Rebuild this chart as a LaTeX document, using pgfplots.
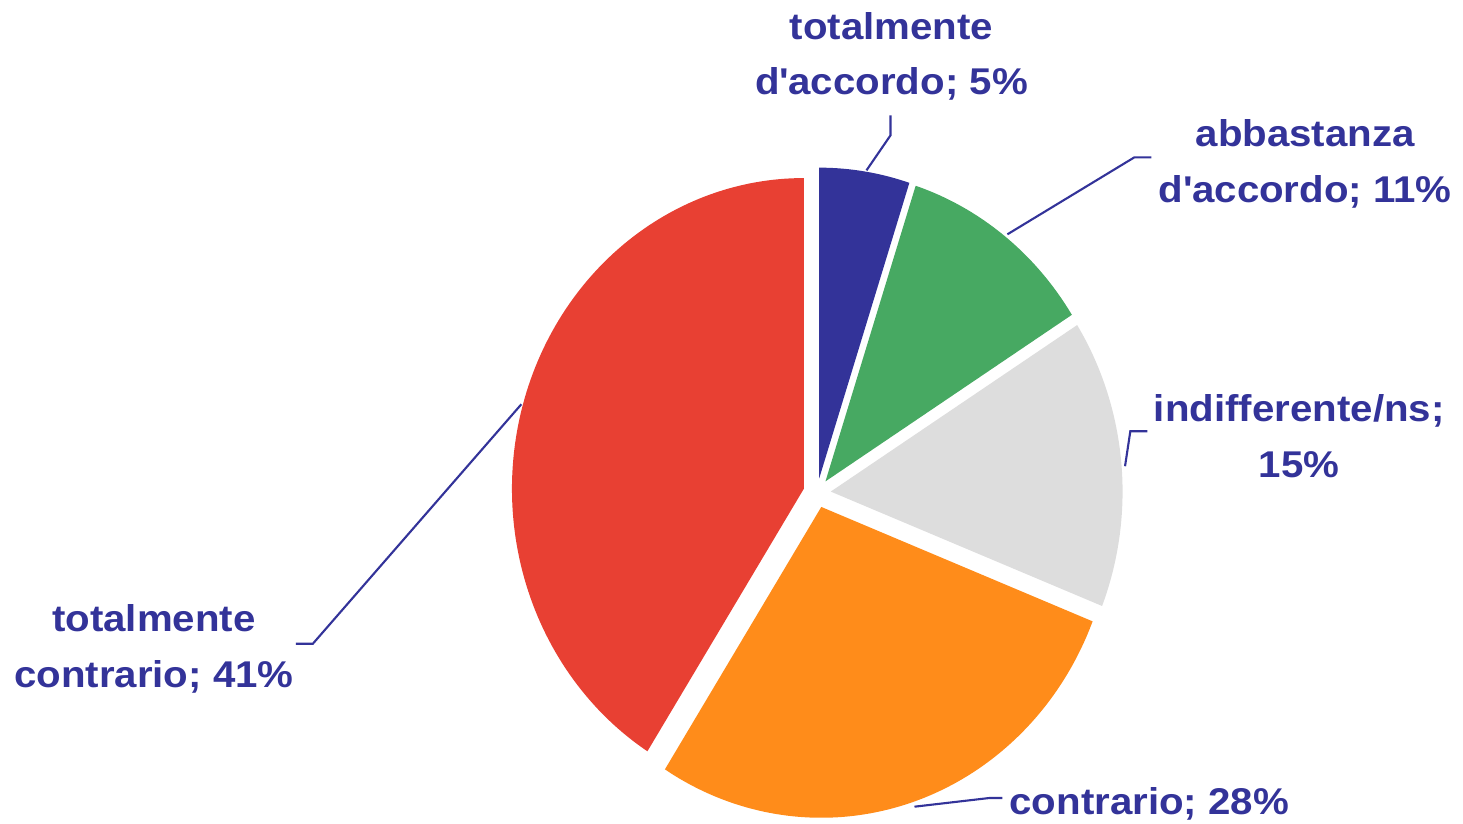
\documentclass[border=0pt]{standalone}
\usepackage{fontspec}
\setmainfont{Liberation Sans}[FakeStretch=1.08]
\usepackage{pgfplots}
\pgfplotsset{compat=1.18}
\definecolor{lblue}{HTML}{333399}
\definecolor{sblue}{HTML}{333399}
\definecolor{sgreen}{HTML}{47A962}
\definecolor{sgrey}{HTML}{DDDDDD}
\definecolor{sorange}{HTML}{FF8C1A}
\definecolor{sred}{HTML}{E84033}
% slice: cumulative start (%), share (%), colour
\newcommand\slice[3]{%
  \pgfmathsetmacro\aS{90-3.6*#1}%
  \pgfmathsetmacro\aE{90-3.6*(#1+#2)}%
  \pgfmathsetmacro\aM{(\aS+\aE)/2}%
  \pgfmathsetmacro\ox{817.5+13.8*cos(\aM)}%
  \pgfmathsetmacro\oy{331.2+14.7*sin(\aM)}%
  \edef\doslice{\noexpand\addplot[fill=#3, draw=none, domain=\aE:\aS, samples=120, variable=\noexpand\t]
    ({\ox+292*cos(\noexpand\t)},{\oy+311*sin(\noexpand\t)}) -- (axis cs:\ox,\oy) -- cycle;}%
  \doslice
}
\tikzset{lab/.style={anchor=base, inner sep=0pt, text=lblue, font=\fontsize{10.6}{12}\selectfont\bfseries},
  lead/.style={draw=lblue, line width=0.6pt}}
\newcommand\q{\textquotesingle}
\begin{document}
\begin{tikzpicture}
\path[use as bounding box] (0,0) rectangle (14.63cm,8.24cm);
\begin{axis}[hide axis, x=0.01cm, y=0.01cm, xmin=0, xmax=1463, ymin=0, ymax=824,
  anchor=south west, at={(0,0)}, clip=false]
% shares (%): totalmente d'accordo 5, abbastanza d'accordo 11, indifferente/ns 15, contrario 28, totalmente contrario 41
\slice{0}{5}{sblue}
\slice{5}{11}{sgreen}
\slice{16}{15}{sgrey}
\slice{31}{28}{sorange}
\slice{59}{41}{sred}
% leader lines
\draw[lead] (axis cs:891,709) -- (axis cs:891,689) -- (axis cs:867,654);
\draw[lead] (axis cs:1152,667) -- (axis cs:1135,667) -- (axis cs:1008,590);
\draw[lead] (axis cs:1148,393) -- (axis cs:1131,393) -- (axis cs:1125.7,358);
\draw[lead] (axis cs:1003,26) -- (axis cs:990,26) -- (axis cs:915,17.3);
\draw[lead] (axis cs:296,180.3) -- (axis cs:313,180.3) -- (axis cs:521.7,420);
% labels
\node[lab] at (axis cs:892,785) {totalmente};
\node[lab] at (axis cs:892,730) {d\q accordo; 5\%};
\node[lab] at (axis cs:1306,678) {abbastanza};
\node[lab] at (axis cs:1306,622) {d\q accordo; 11\%};
\node[lab] at (axis cs:1300,403) {indifferente/ns;};
\node[lab] at (axis cs:1300,347) {15\%};
\node[lab] at (axis cs:1150,9) {contrario; 28\%};
\node[lab] at (axis cs:154,193) {totalmente};
\node[lab] at (axis cs:154,137) {contrario; 41\%};
\end{axis}
\end{tikzpicture}
\end{document}
